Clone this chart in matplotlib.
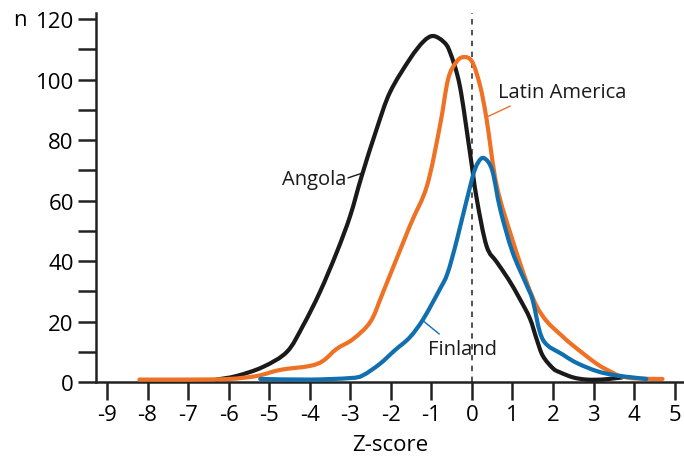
import matplotlib
matplotlib.use("Agg")
import matplotlib.pyplot as plt
from matplotlib.path import Path
from matplotlib.patches import PathPatch
import numpy as np

# data
angola_x = [-6.3, -5.8, -5.15, -4.56, -4.17, -3.75, -3.33, -3.0, -2.72, -2.35, -2.02, -1.53,
            -1.2, -0.96, -0.7, -0.54, -0.3, -0.05, 0.12, 0.36, 0.61, 0.9, 1.18, 1.43, 1.6,
            1.75, 2.0, 2.17, 2.5, 2.83, 3.2, 3.5, 3.7]
angola_y = [0.8, 2, 5, 10, 18.5, 29.7, 43, 55, 68, 83.6, 95.8, 106.8,
            112.5, 114.4, 112.5, 109, 98, 76, 60.5, 45, 39.7, 34, 27.5, 21, 14,
            8.6, 4.5, 3.2, 1.5, 0.8, 0.8, 1.2, 1.5]

latam_x = [-8.2, -7, -6, -5.3, -4.73, -4.0, -3.67, -3.33, -2.93, -2.5, -2.19,
           -1.53, -1.11, -0.79, -0.59, -0.4, -0.22, 0.0, 0.2, 0.36, 0.61, 1.0,
           1.35, 1.6, 1.85, 2.2, 2.5, 3.08, 3.48, 3.65, 4.0, 4.7]
latam_y = [0.8, 0.8, 1, 2, 4, 5.3, 7, 11, 14.2, 20, 29.7,
           51.6, 64.8, 84.6, 100, 105.5, 107.4, 106, 98, 87, 65, 47,
           33, 25, 20, 15.5, 12, 6, 3, 2, 1.2, 1]

finland_x = [-5.22, -4, -3.0, -2.69, -2.27, -1.9, -1.53, -1.2, -0.79, -0.6, -0.37, 0.0,
             0.15, 0.3, 0.5, 0.7, 1.0, 1.35, 1.5, 1.75, 2.25, 2.6, 3.08, 3.5, 3.9, 4.3]
finland_y = [1, 0.8, 1.3, 2.2, 6, 10.5, 14.8, 20.8, 30.7, 36, 47, 67,
             72.5, 74, 70, 57, 43, 32, 27, 14, 9, 6.2, 3.6, 2.3, 1.6, 1]

x_ticks = list(range(-9, 6))
y_major = list(range(0, 121, 20))
y_minor = list(range(10, 120, 20))

BLACK = "#1a1a1a"
ORANGE = "#ee7124"
BLUE = "#106fae"

plt.rcParams["font.family"] = ["Open Sans", "DejaVu Sans"]
plt.rcParams["axes.unicode_minus"] = False


def smooth_path(xs, ys):
    # catmull-rom through the read points, drawn as cubic bezier segments
    p = np.column_stack([xs, ys]).astype(float)
    verts = [p[0]]
    codes = [Path.MOVETO]
    n = len(p)
    for i in range(n - 1):
        p0 = p[i - 1] if i > 0 else p[i]
        p3 = p[i + 2] if i + 2 < n else p[i + 1]
        c1 = p[i] + (p[i + 1] - p0) / 6
        c2 = p[i + 1] - (p3 - p[i]) / 6
        verts += [c1, c2, p[i + 1]]
        codes += [Path.CURVE4] * 3
    return Path(verts, codes)


fig = plt.figure(figsize=(6.84, 4.6), dpi=100)
ax = fig.add_axes([96 / 684, 1 - 383 / 460, 1 - 96 / 684, (383 - 14) / 460])

ax.axvline(0, color="#444444", lw=1.3, ls=(0, (3, 3)), zorder=1)
for xs, ys, col, z in [(angola_x, angola_y, BLACK, 3),
                       (latam_x, latam_y, ORANGE, 4),
                       (finland_x, finland_y, BLUE, 5)]:
    ax.add_patch(PathPatch(smooth_path(xs, ys), fill=False, edgecolor=col, lw=3,
                           capstyle="round", joinstyle="round", zorder=z))

# labels with leader lines
ax.text(-3.1, 67, "Angola", fontsize=14.5, ha="right", va="center", color=BLACK)
ax.plot([-3.05, -2.72], [67.5, 69], color=BLACK, lw=1)
ax.text(0.64, 96, "Latin America", fontsize=14.5, ha="left", va="center", color=BLACK)
ax.plot([0.94, 0.37], [91.2, 87.6], color=ORANGE, lw=1)
ax.text(-1.08, 11, "Finland", fontsize=14.5, ha="left", va="center", color=BLACK)
ax.plot([-1.2, -0.81], [20.2, 15.9], color=BLUE, lw=1)

ax.set_xlim(-9.27, 5.23)
ax.set_ylim(0, 122)
ax.set_xticks(x_ticks)
ax.set_xticklabels([str(v) for v in x_ticks])
ax.set_yticks(y_major)
ax.set_yticks(y_minor, minor=True)
ax.tick_params(axis="both", which="both", direction="out", length=13, width=1.8,
               color="#222222", labelsize=16, pad=3)
ax.spines["top"].set_visible(False)
ax.spines["right"].set_visible(False)
for s in ("left", "bottom"):
    ax.spines[s].set_linewidth(1.8)
    ax.spines[s].set_color("#222222")
ax.set_xlabel("Z-score", fontsize=16, labelpad=6)
fig.text(20 / 684, 1 - 20 / 460, "n", fontsize=16, ha="center", va="center")

fig.savefig("out.png", dpi=100)
